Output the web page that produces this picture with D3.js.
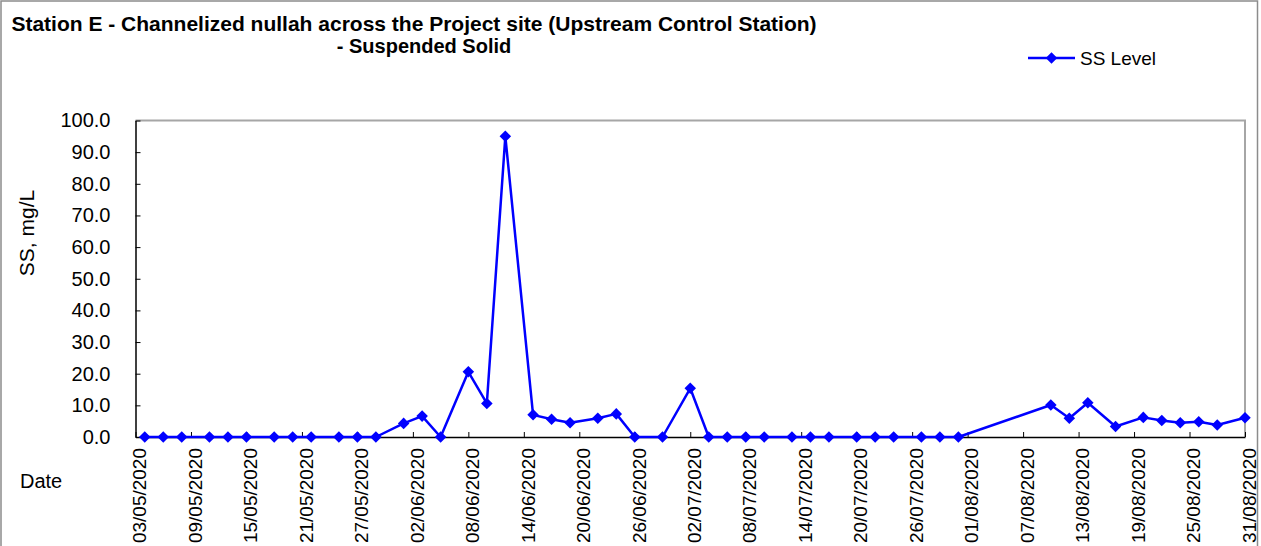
<!DOCTYPE html>
<html>
<head>
<meta charset="utf-8">
<script src="https://cdn.jsdelivr.net/npm/d3@7"></script>
<style>
  html, body { margin: 0; padding: 0; background: #fff; }
  svg { display: block; font-family: "Liberation Sans", Arial, sans-serif; }
</style>
</head>
<body>
<div id="chart-div"></div>
<script>
// sampling dates (dd/mm/yyyy) and SS readings, mg/L
const sampleDates = [
    '04/05/2020','06/05/2020','08/05/2020','11/05/2020','13/05/2020','15/05/2020',
    '18/05/2020','20/05/2020','22/05/2020','25/05/2020','27/05/2020','29/05/2020',
    '01/06/2020','03/06/2020','05/06/2020','08/06/2020','10/06/2020','12/06/2020',
    '15/06/2020','17/06/2020','19/06/2020','22/06/2020','24/06/2020','26/06/2020',
    '29/06/2020','02/07/2020','04/07/2020','06/07/2020','08/07/2020','10/07/2020',
    '13/07/2020','15/07/2020','17/07/2020','20/07/2020','22/07/2020','24/07/2020',
    '27/07/2020','29/07/2020','31/07/2020','10/08/2020','12/08/2020','14/08/2020',
    '17/08/2020','20/08/2020','22/08/2020','24/08/2020','26/08/2020','28/08/2020',
    '31/08/2020'
];
const ssLevel = [
    0, 0, 0, 0, 0, 0,
    0, 0, 0, 0, 0, 0,
    4.3, 6.6, 0, 20.6, 10.6, 95.0,
    7.0, 5.6, 4.5, 5.9, 7.3, 0,
    0, 15.4, 0, 0, 0, 0,
    0, 0, 0, 0, 0, 0,
    0, 0, 0, 10.1, 5.9, 10.8,
    3.3, 6.2, 5.2, 4.5, 4.8, 3.8,
    6.1
];

// x axis labels (every 6 days)
const dateTicks = [
    '03/05/2020','09/05/2020','15/05/2020','21/05/2020','27/05/2020','02/06/2020',
    '08/06/2020','14/06/2020','20/06/2020','26/06/2020','02/07/2020','08/07/2020',
    '14/07/2020','20/07/2020','26/07/2020','01/08/2020','07/08/2020','13/08/2020',
    '19/08/2020','25/08/2020','31/08/2020'
];
const yTicks = [0, 10, 20, 30, 40, 50, 60, 70, 80, 90, 100];

const titleLines = [
    'Station E - Channelized nullah across the Project site (Upstream Control Station)',
    '- Suspended Solid'
];
const seriesName = 'SS Level';

const COLOR_LINE = '#0000FF';
const COLOR_FRAME = '#8c8c8c';

const parse = d3.timeParse('%d/%m/%Y');
const fmt = d3.timeFormat('%d/%m/%Y');

const width = 1261, height = 546;
const plot = { left: 135.5, right: 1245, top: 120.5, bottom: 437 };

const data = sampleDates.map((d, i) => ({ date: parse(d), value: ssLevel[i] }));

const svg = d3.select('#chart-div').append('svg')
    .attr('width', width)
    .attr('height', height);

// outer chart frame
svg.append('rect')
    .attr('x', 1).attr('y', 1)
    .attr('width', 1256.5).attr('height', 600)
    .attr('fill', '#fff')
    .attr('stroke', COLOR_FRAME).attr('stroke-width', 1.5);

const x = d3.scaleTime()
    .domain([parse(dateTicks[0]), parse(dateTicks[dateTicks.length - 1])])
    .range([plot.left, plot.right]);
const y = d3.scaleLinear()
    .domain([0, 100])
    .range([plot.bottom, plot.top]);

// plot area top / right border
svg.append('path')
    .attr('d', `M${plot.left},${plot.top}H${plot.right}V${plot.bottom}`)
    .attr('fill', 'none')
    .attr('stroke', '#a6a6a6').attr('stroke-width', 2);

// y axis
const yAxis = svg.append('g')
    .attr('transform', `translate(${plot.left},0)`)
    .call(d3.axisLeft(y).tickValues(yTicks).tickFormat(d3.format('.1f'))
        .tickSizeInner(-5).tickSizeOuter(0).tickPadding(25));
yAxis.select('.domain').attr('stroke', '#000').attr('stroke-width', 1.5);
yAxis.selectAll('.tick line').attr('stroke', '#000');
yAxis.selectAll('.tick text')
    .attr('font-size', 20).attr('fill', '#000')
    .attr('font-family', '"Liberation Sans", Arial, sans-serif');

// x axis
const xAxis = svg.append('g')
    .attr('transform', `translate(0,${plot.bottom})`)
    .call(d3.axisBottom(x).tickValues(dateTicks.map(parse)).tickFormat(fmt)
        .tickSizeInner(-5).tickSizeOuter(0));
xAxis.select('.domain').attr('stroke', '#000').attr('stroke-width', 1.5);
xAxis.selectAll('.tick line').attr('stroke', '#000');
xAxis.selectAll('.tick text')
    .attr('font-size', 19).attr('fill', '#000')
    .attr('font-family', '"Liberation Sans", Arial, sans-serif')
    .attr('x', 0).attr('y', 0).attr('dy', '0.38em')
    .attr('text-anchor', 'end')
    .attr('transform', 'translate(3,11) rotate(-90)');

// series line + diamond markers
svg.append('path')
    .datum(data)
    .attr('fill', 'none')
    .attr('stroke', COLOR_LINE).attr('stroke-width', 2.5)
    .attr('stroke-linejoin', 'round')
    .attr('d', d3.line().x(d => x(d.date)).y(d => y(d.value)));

const diamond = d3.symbol().type(d3.symbolDiamond2).size(85);
svg.append('g').selectAll('path')
    .data(data)
    .join('path')
    .attr('transform', d => `translate(${x(d.date)},${y(d.value)})`)
    .attr('d', diamond)
    .attr('fill', COLOR_LINE);

// titles
svg.append('text')
    .attr('x', 414).attr('y', 31)
    .attr('text-anchor', 'middle')
    .attr('font-size', 21).attr('font-weight', 'bold')
    .text(titleLines[0]);
svg.append('text')
    .attr('x', 424).attr('y', 53)
    .attr('text-anchor', 'middle')
    .attr('font-size', 20).attr('font-weight', 'bold')
    .text(titleLines[1]);

svg.append('text')
    .attr('transform', 'translate(34,233) rotate(-90)')
    .attr('text-anchor', 'middle')
    .attr('font-size', 21)
    .text('SS, mg/L');

svg.append('text')
    .attr('x', 20).attr('y', 488)
    .attr('font-size', 20)
    .text('Date');

// legend
const lg = svg.append('g').attr('transform', 'translate(1028,58)');
lg.append('line')
    .attr('x1', 0).attr('x2', 47)
    .attr('stroke', COLOR_LINE).attr('stroke-width', 2.5);
lg.append('path')
    .attr('transform', 'translate(23.5,0)')
    .attr('d', diamond)
    .attr('fill', COLOR_LINE);
lg.append('text')
    .attr('x', 52).attr('y', 0).attr('dy', '0.35em')
    .attr('font-size', 19)
    .text(seriesName);
</script>
</body>
</html>
